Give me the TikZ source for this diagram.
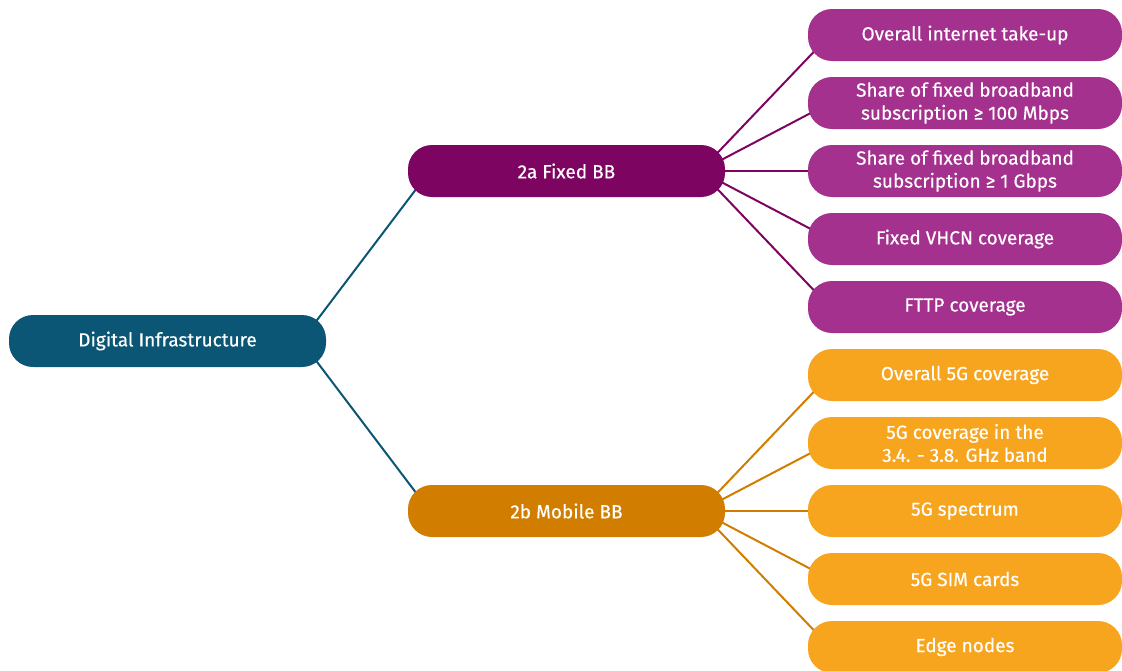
\documentclass[tikz,border=0pt]{standalone}
\usepackage{fontspec}
\setmainfont{Fira Sans}[FakeBold=0.4]
\usetikzlibrary{calc,backgrounds}
\definecolor{rootc}{HTML}{0B5674}
\definecolor{fixc}{HTML}{7D0561}
\definecolor{fixleaf}{HTML}{A4318D}
\definecolor{mobc}{HTML}{D17D00}
\definecolor{mobleaf}{HTML}{F7A51F}
\begin{document}
\begin{tikzpicture}[x=1pt,y=-1pt,
  box/.style={rectangle, rounded corners=24pt, minimum height=52pt, inner sep=0pt,
    align=center, text=white, font=\fontsize{19}{23}\selectfont},
  rootbox/.style={box, minimum width=317pt, fill=rootc},
  fixbox/.style={box, minimum width=317pt, fill=fixc},
  mobbox/.style={box, minimum width=317pt, fill=mobc},
  fixleafbox/.style={box, minimum width=314pt, fill=fixleaf},
  mobleafbox/.style={box, minimum width=314pt, fill=mobleaf},
  conn/.style={line width=2pt}]
\useasboundingbox (0,0) rectangle (1122,670);
\node[rootbox] (root) at (167.5,341) {Digital Infrastructure};
\node[fixbox] (fa) at (566.5,171) {2a Fixed BB};
\node[mobbox] (mb) at (566.5,511) {2b Mobile BB};
\node[fixleafbox] (p1) at (965,35) {Overall internet take-up};
\node[fixleafbox] (p2) at (965,103) {Share of fixed broadband\\subscription ≥ 100 Mbps};
\node[fixleafbox] (p3) at (965,171) {Share of fixed broadband\\subscription ≥ 1 Gbps};
\node[fixleafbox] (p4) at (965,239) {Fixed VHCN coverage};
\node[fixleafbox] (p5) at (965,307) {FTTP coverage};
\node[mobleafbox] (o1) at (965,375) {Overall 5G coverage};
\node[mobleafbox] (o2) at (965,443) {5G coverage in the\\3.4. - 3.8. GHz band};
\node[mobleafbox] (o3) at (965,511) {5G spectrum};
\node[mobleafbox] (o4) at (965,579) {5G SIM cards};
\node[mobleafbox] (o5) at (965,647) {Edge nodes};
\begin{pgfonlayer}{background}
\draw[conn, rootc] ($(root.east)+(-25,0)$) -- ($(fa.west)+(22,0)$);
\draw[conn, rootc] ($(root.east)+(-25,0)$) -- ($(mb.west)+(22,0)$);
\foreach \n in {p1,p2,p3,p4,p5}
  \draw[conn, fixc] ($(fa.east)+(-25,0)$) -- ($(\n.west)+(22,0)$);
\foreach \n in {o1,o2,o3,o4,o5}
  \draw[conn, mobc] ($(mb.east)+(-25,0)$) -- ($(\n.west)+(22,0)$);
\end{pgfonlayer}
\end{tikzpicture}
\end{document}
